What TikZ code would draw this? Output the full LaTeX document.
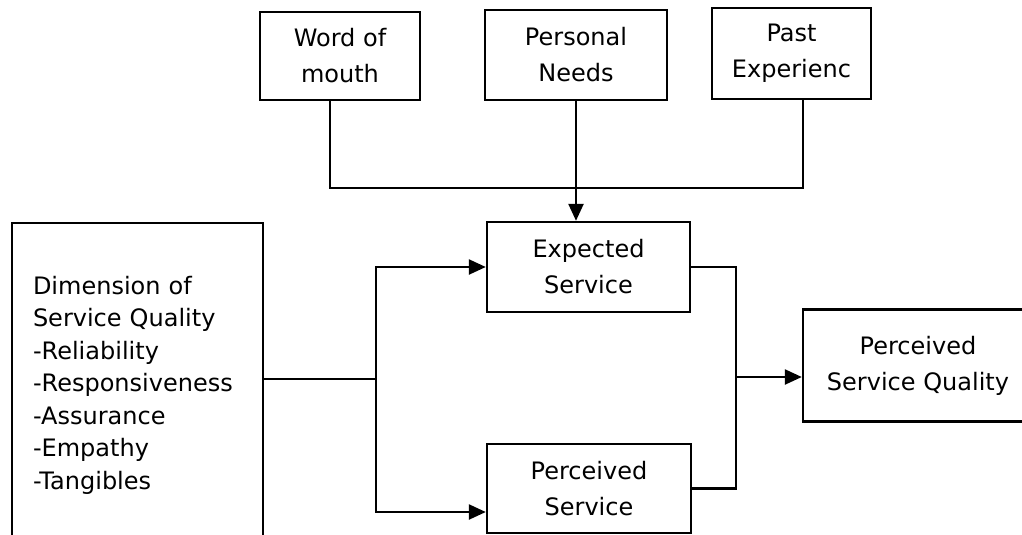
\documentclass[tikz,border=0pt]{standalone}
\usepackage{fontspec}
\setmainfont{DejaVu Sans}
\usetikzlibrary{arrows.meta,positioning}
\tikzset{
  box/.style   ={draw,line width=2.4pt,align=center,inner sep=0pt,
                 font=\fontsize{24}{36}\selectfont},
  dimbox/.style={draw,line width=2.4pt,align=left,inner xsep=21pt,
                 inner ysep=0pt,text width=209pt,
                 font=\fontsize{24}{32.5}\selectfont},
  ln/.style    ={line width=2.4pt},
  ar/.style    ={line width=2.4pt,-{Triangle[length=17pt,width=15pt]}},
}

\begin{document}
\begin{tikzpicture}[x=1pt,y=-1pt]
\useasboundingbox (0,0) rectangle (1022,535);
% influences on expectation
\node[box,minimum width=160pt,minimum height=88pt] (wom) at (340,56) {Word of\\mouth};
\node[box,minimum width=182pt,minimum height=90pt] (pn) at (576,55) {Personal\\Needs};
\node[box,minimum width=159pt,minimum height=91pt] (pe) at (791.5,53.5) {Past\\Experienc};
% the two services
\node[box,minimum width=203pt,minimum height=90pt] (exp) at (588.5,267) {Expected\\Service};
\node[box,minimum width=204pt,minimum height=89pt] (per) at (589,488.5) {Perceived\\Service};
\node[dimbox,minimum height=324pt] (dim) at (137.5,385) {Dimension of\\Service Quality\\-Reliability\\-Responsiveness\\-Assurance\\-Empathy\\-Tangibles};
\node[box,minimum width=230pt,minimum height=112pt] (psq) at (918,365.5) {Perceived\\Service Quality};
% junctions
\coordinate (top) at (577,188);
\coordinate (sp) at (376,379);
\coordinate (mj) at (736,377);
\draw[ln] ([xshift=-10pt]wom.south) |- (top);
\draw[ln] ([xshift=11.5pt]pe.south) |- (top);
\draw[ar] (pn.south) -- (pn.south |- exp.north);
\draw[ln] (dim.east |- sp) -- (sp);
\draw[ar] (sp) |- (exp.west);
\draw[ar] (sp) |- ([yshift=-23.5pt]per.west);
\draw[ln] (exp.east) -| (mj) |- (per.east);
\draw[ar] (mj) -- (mj -| psq.west);
\end{tikzpicture}
\end{document}
